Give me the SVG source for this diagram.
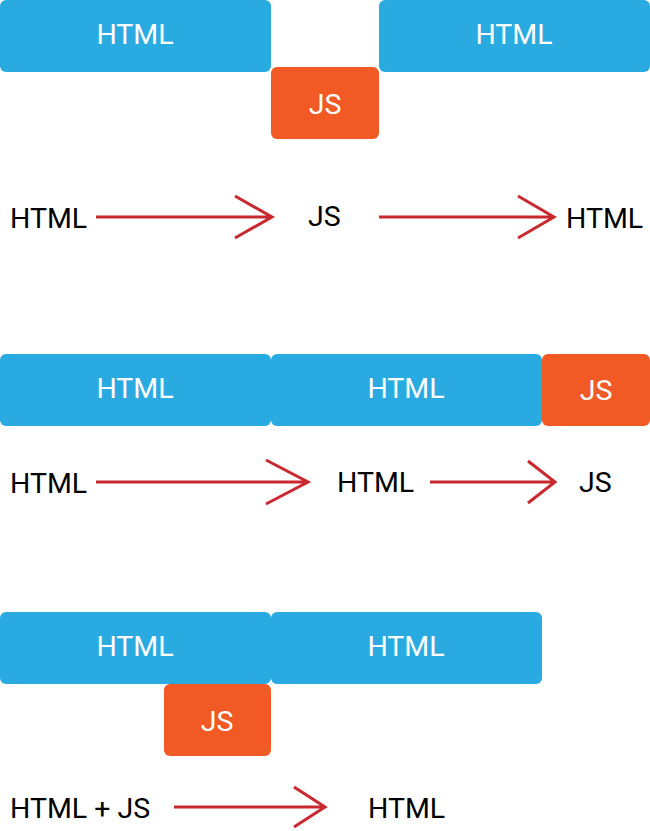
<svg xmlns="http://www.w3.org/2000/svg" width="650" height="831" viewBox="0 0 650 831">
<style>
.html{fill:#29abe2}
.js{fill:#f15a24}
.lt{font-family:Roboto,"Liberation Sans",sans-serif;font-size:28.5px;fill:#ffffff;text-anchor:middle}
.dk{font-family:Roboto,"Liberation Sans",sans-serif;font-size:28.5px;fill:#000000}
.ar{fill:none;stroke:#c8282e;stroke-width:3}
</style>
<rect width="650" height="831" fill="#ffffff"/>
<g id="row1-html1"><rect class="html" x="0" y="0" width="271" height="72" rx="6"/><text class="lt" x="135" y="44">HTML</text></g>
<g id="row1-js"><rect class="js" x="271" y="67" width="108" height="72" rx="6"/><text class="lt" x="325" y="114">JS</text></g>
<g id="row1-html2"><rect class="html" x="379" y="0" width="271" height="72" rx="6"/><text class="lt" x="514" y="44">HTML</text></g>
<g id="row1-labels">
<text class="dk" x="10" y="228">HTML</text>
<text class="dk" x="308" y="226">JS</text>
<text class="dk" x="566" y="228">HTML</text>
</g>
<g id="row2-html1"><rect class="html" x="0" y="354" width="271" height="72" rx="6"/><text class="lt" x="135" y="398">HTML</text></g>
<g id="row2-html2"><rect class="html" x="271" y="354" width="271" height="72" rx="6"/><text class="lt" x="406" y="398">HTML</text></g>
<g id="row2-js"><rect class="js" x="542" y="354" width="108" height="72" rx="6"/><text class="lt" x="596" y="400">JS</text></g>
<g id="row2-labels">
<text class="dk" x="10" y="493">HTML</text>
<text class="dk" x="337" y="492">HTML</text>
<text class="dk" x="579" y="492">JS</text>
</g>
<g id="row3-html1"><rect class="html" x="0" y="612" width="271" height="72" rx="6"/><text class="lt" x="135" y="656">HTML</text></g>
<g id="row3-html2"><rect class="html" x="271" y="612" width="271" height="72" rx="6"/><text class="lt" x="406" y="656">HTML</text></g>
<g id="row3-js"><rect class="js" x="164" y="684" width="107" height="72" rx="6"/><text class="lt" x="217" y="731">JS</text></g>
<g id="row3-labels">
<text class="dk" x="10" y="818">HTML + JS</text>
<text class="dk" x="368" y="818">HTML</text>
</g>
<g id="connectors">
<path class="ar" d="M96,217 H272 M235,196 L272,217 L235,238"/>
<path class="ar" d="M379,217 H554 M518,196 L554,217 L518,238"/>
<path class="ar" d="M96,482 H308 M266,460 L308,482 L266,504"/>
<path class="ar" d="M430,482 H555 M528,461 L555,482 L528,503"/>
<path class="ar" d="M174,807 H325 M294,787 L325,807 L294,827"/>
</g>
</svg>
